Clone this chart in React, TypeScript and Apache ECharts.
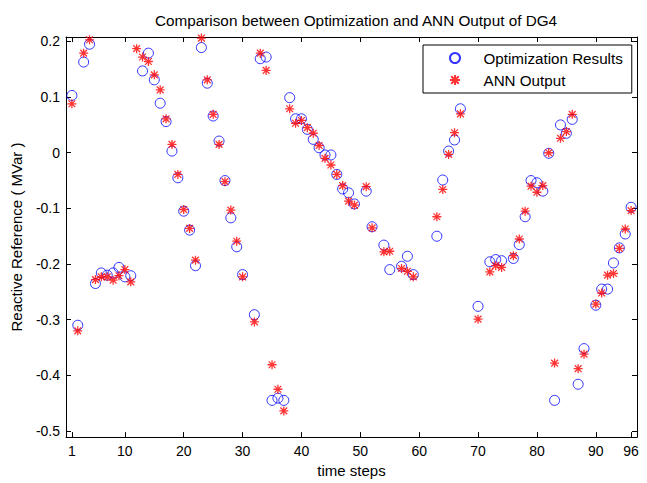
import React, { useEffect, useRef } from "react";
import * as echarts from "echarts";

const TITLE = "Comparison between Optimization and ANN Output of DG4";
const X_NAME = "time steps";
const Y_NAME = "Reactive Reference ( MVar )";
const X_TICKS = [1, 10, 20, 30, 40, 50, 60, 70, 80, 90, 96];
const Y_TICKS = [-0.5, -0.4, -0.3, -0.2, -0.1, 0, 0.1, 0.2];
const SERIES_NAMES = ["Optimization Results", "ANN Output"];

// time steps 1..96 ; null = no visible mark
const optimization: (number | null)[] = [
  0.103, -0.31, 0.163, 0.195, -0.235, -0.216, -0.22, -0.216, -0.206, -0.223,
  -0.221, null, 0.147, 0.179, 0.131, 0.089, 0.056, 0.003, -0.045, -0.105,
  -0.139, -0.203, 0.189, 0.125, 0.066, 0.021, -0.05, -0.117, -0.169, -0.219,
  null, -0.291, 0.169, 0.172, -0.445, -0.441, -0.445, 0.099, 0.061, 0.061,
  0.042, 0.024, 0.009, -0.004, -0.004, -0.039, -0.065, -0.072, -0.092, null,
  -0.069, -0.133, null, -0.166, -0.21, null, -0.204, -0.186, -0.219, null,
  null, null, -0.15, -0.049, 0.003, 0.023, 0.079, null, null, -0.276,
  null, -0.196, -0.192, -0.194, null, -0.19, -0.165, -0.115, -0.05, -0.054,
  -0.069, -0.001, -0.445, 0.05, 0.035, 0.06, -0.416, -0.352, null, -0.274,
  -0.245, -0.245, -0.198, -0.171, -0.146, -0.098,
];

const annOutput: (number | null)[] = [
  0.088, -0.32, 0.179, 0.203, -0.228, -0.223, -0.223, -0.229, -0.221, -0.21,
  -0.232, 0.187, 0.172, 0.164, 0.14, 0.113, 0.061, 0.015, -0.039, -0.102,
  -0.136, -0.193, 0.206, 0.131, 0.069, 0.015, -0.052, -0.103, -0.159, -0.223,
  null, -0.304, 0.179, 0.148, -0.381, -0.425, -0.464, 0.079, 0.053, 0.058,
  0.045, 0.035, 0.013, -0.01, -0.022, -0.039, -0.059, -0.087, -0.094, null,
  -0.061, -0.135, null, -0.178, -0.177, null, -0.208, -0.213, -0.223, null,
  null, null, -0.115, -0.066, -0.003, 0.036, 0.07, null, null, -0.299,
  null, -0.214, -0.203, -0.206, null, -0.185, -0.155, -0.105, -0.06, -0.071,
  -0.059, 0.0, -0.378, 0.026, 0.038, 0.069, -0.388, -0.362, null, -0.272,
  -0.252, -0.22, -0.217, -0.172, -0.137, -0.104,
];

const toPairs = (vals: (number | null)[]) =>
  vals
    .map((v, i) => (v === null ? null : [i + 1, v]))
    .filter((p) => p !== null) as number[][];

const FONT = "'Liberation Sans', Arial, Helvetica, sans-serif";
const STAR =
  "path://M0 -10 L0 10 M-10 0 L10 0 M-7.5 -7.5 L7.5 7.5 M-7.5 7.5 L7.5 -7.5";

export default function App() {
  const ref = useRef<HTMLDivElement>(null);
  useEffect(() => {
    if (!ref.current) return;
    document.body.style.margin = "0";
    const chart = echarts.init(ref.current, undefined, { renderer: "svg" });
    const fmtY = (v: number) => String(Math.round(v * 10) / 10);
    const xBase = {
      type: "value" as const,
      min: 0,
      max: 97,
      splitLine: { show: false },
      axisLine: { show: true, onZero: false, lineStyle: { color: "#000", width: 1 } },
    };
    const yBase = {
      type: "value" as const,
      min: -0.511,
      max: 0.208,
      splitLine: { show: false },
      axisLine: { show: true, onZero: false, lineStyle: { color: "#000", width: 1 } },
    };
    chart.setOption({
      animation: false,
      backgroundColor: "#fff",
      title: {
        text: TITLE,
        left: 351,
        textAlign: "center",
        top: 8,
        textStyle: { fontFamily: FONT, fontSize: 15.3, fontWeight: "normal", color: "#000" },
      },
      grid: { left: 66, right: 10, top: 37, bottom: 42, containLabel: false },
      legend: {
        orient: "vertical",
        left: 423,
        top: 45,
        backgroundColor: "#fff",
        borderColor: "#000",
        borderWidth: 1,
        padding: [4, 9, 4, 26],
        itemWidth: 47,
        itemHeight: 10,
        itemGap: 4,
        textStyle: { fontFamily: FONT, fontSize: 15.2, lineHeight: 18, color: "#000" },
        data: SERIES_NAMES,
      },
      xAxis: [
        {
          ...xBase,
          position: "bottom",
          name: X_NAME,
          nameLocation: "middle",
          nameGap: 21,
          nameTextStyle: { fontFamily: FONT, fontSize: 15, color: "#000" },
          axisTick: { show: true, inside: true, length: 5, customValues: X_TICKS, lineStyle: { color: "#000" } },
          axisLabel: { show: true, customValues: X_TICKS, color: "#000", fontFamily: FONT, fontSize: 14, margin: 7 },
        },
        {
          ...xBase,
          position: "top",
          axisTick: { show: true, inside: true, length: 5, customValues: X_TICKS, lineStyle: { color: "#000" } },
          axisLabel: { show: false },
        },
      ],
      yAxis: [
        {
          ...yBase,
          position: "left",
          name: Y_NAME,
          nameLocation: "middle",
          nameGap: 42,
          nameRotate: 90,
          nameTextStyle: { fontFamily: FONT, fontSize: 15, color: "#000" },
          axisTick: { show: true, inside: true, length: 5, customValues: Y_TICKS, lineStyle: { color: "#000" } },
          axisLabel: {
            show: true,
            customValues: Y_TICKS,
            formatter: fmtY,
            color: "#000",
            fontFamily: FONT,
            fontSize: 14,
            margin: 6,
          },
        },
        {
          ...yBase,
          position: "right",
          axisTick: { show: true, inside: true, length: 5, customValues: Y_TICKS, lineStyle: { color: "#000" } },
          axisLabel: { show: false },
        },
      ],
      series: [
        {
          name: SERIES_NAMES[0],
          type: "scatter",
          xAxisIndex: 0,
          yAxisIndex: 0,
          symbol: "circle",
          symbolSize: 10,
          itemStyle: { color: "rgba(0,0,0,0)", borderColor: "#0000ff", borderWidth: 1 },
          data: toPairs(optimization),
          z: 2,
        },
        {
          name: SERIES_NAMES[1],
          type: "scatter",
          xAxisIndex: 0,
          yAxisIndex: 0,
          symbol: STAR,
          symbolSize: 9,
          itemStyle: { color: "rgba(0,0,0,0)", borderColor: "#ff0000", borderWidth: 1.3 },
          data: toPairs(annOutput),
          z: 3,
        },
      ],
    });
    return () => chart.dispose();
  }, []);
  return (
    <div
      ref={ref}
      style={{ position: "fixed", left: 0, top: 0, width: 647, height: 483 }}
    />
  );
}
